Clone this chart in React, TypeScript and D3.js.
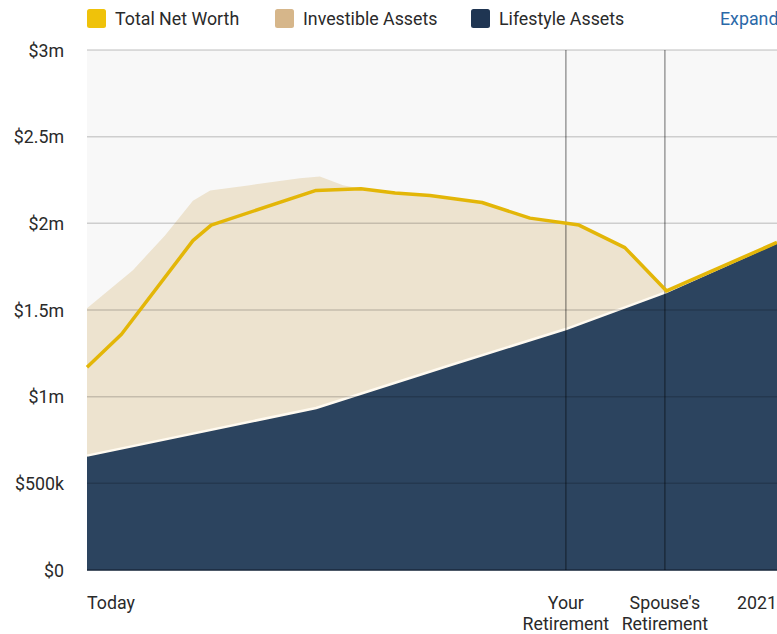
import * as d3 from "d3";

// years from today (x) and values in $m
const nwYears = [0, 1, 3.07, 3.6, 6.64, 7.94, 8.93, 9.94, 11.45, 12.84, 14.26, 15.59, 16.8, 20];
const nwValues = [1.17, 1.36, 1.9, 1.99, 2.19, 2.2, 2.175, 2.16, 2.12, 2.03, 1.99, 1.86, 1.61, 1.89];

const invYears = [0, 1.33, 2.26, 3.07, 3.57, 4.72, 6.17, 6.75, 7.42, 7.94, 8.93, 9.94, 11.45, 12.84, 14.26, 15.59, 16.8, 20];
const invValues = [1.51, 1.73, 1.93, 2.13, 2.19, 2.22, 2.26, 2.27, 2.22, 2.2, 2.17, 2.155, 2.115, 2.025, 1.985, 1.855, 1.6, 1.88];

const lifeYears = [0, 6.64, 10.5, 13.88, 16.75, 20];
const lifeValues = [0.66, 0.935, 1.18, 1.39, 1.6, 1.89];

const yTicks = [0, 0.5, 1, 1.5, 2, 2.5, 3];
const yLabels = ["$0", "$500k", "$1m", "$1.5m", "$2m", "$2.5m", "$3m"];

const markerYears = [13.88, 16.75];
const markerLabels = [["Your", "Retirement"], ["Spouse's", "Retirement"]];

const legendItems = [
    { label: "Total Net Worth", color: "#efc20a", x: 87 },
    { label: "Investible Assets", color: "#d6b68a", x: 275 },
    { label: "Lifestyle Assets", color: "#1f3552", x: 471 },
];

export default function App() {
    const width = 777;
    const height = 634;
    const left = 87;
    const right = 777;
    const top = 50;
    const bottom = 570;

    const x = d3.scaleLinear().domain([0, 20]).range([left, right]);
    const y = d3.scaleLinear().domain([0, 3]).range([bottom, top]);

    const zip = (xs: number[], vs: number[]) => xs.map((d, i) => [d, vs[i]] as [number, number]);
    const nw = zip(nwYears, nwValues);
    const inv = zip(invYears, invValues);
    const life = zip(lifeYears, lifeValues);

    const area = d3.area<[number, number]>().x(d => x(d[0])).y0(y(0)).y1(d => y(d[1]));
    const line = d3.line<[number, number]>().x(d => x(d[0])).y(d => y(d[1]));

    const font = "Roboto, 'Noto Sans', sans-serif";
    const fs = 17.8;

    return (
        <>
            <style>{"body{margin:0}"}</style>
            <svg width={width} height={height} style={{ display: "block", fontFamily: font }}>
                <rect x={0} y={0} width={width} height={height} fill="#fff" />
                {legendItems.map(d => (
                    <g key={d.label}>
                        <rect x={d.x} y={9} width={19} height={19} rx={2.5} fill={d.color} />
                        <text x={d.x + 28} y={24.5} fontSize={fs} fill="#2a2a2a">{d.label}</text>
                    </g>
                ))}
                <text x={720} y={24.5} fontSize={fs} fill="#2a68a8">Expand</text>

                <rect x={left} y={top} width={right - left} height={bottom - top} fill="#f8f8f8" />
                <path d={String(area(inv))} fill="#ede3cf" />
                <path d={String(area(life))} fill="#2c445f" />
                <path d={String(line(life))} fill="none" stroke="#fffaf0" strokeWidth={2.5} />

                {yTicks.map((t, i) => (
                    <g key={t}>
                        <line x1={left} x2={right} y1={y(t)} y2={y(t)} stroke="rgba(0,0,0,0.17)" strokeWidth={1.5} />
                        <text x={64} y={y(t) + 6.5} fontSize={fs} fill="#2a2a2a" textAnchor="end">{yLabels[i]}</text>
                    </g>
                ))}
                <line x1={left} x2={right} y1={bottom} y2={bottom} stroke="#1c2c40" strokeWidth={1.5} />

                {markerYears.map((m, i) => (
                    <g key={m}>
                        <line x1={x(m)} x2={x(m)} y1={top} y2={bottom} stroke="rgba(0,0,0,0.38)" strokeWidth={1.5} />
                        <text x={x(m)} y={609} fontSize={fs} fill="#2a2a2a" textAnchor="middle">{markerLabels[i][0]}</text>
                        <text x={x(m)} y={630} fontSize={fs} fill="#2a2a2a" textAnchor="middle">{markerLabels[i][1]}</text>
                    </g>
                ))}

                <path d={String(line(nw))} fill="none" stroke="#e3b608" strokeWidth={3.5} strokeLinejoin="round" />

                <text x={left} y={609} fontSize={fs} fill="#2a2a2a">Today</text>
                <text x={777} y={609} fontSize={fs} fill="#2a2a2a" textAnchor="end">2021</text>
            </svg>
        </>
    );
}
